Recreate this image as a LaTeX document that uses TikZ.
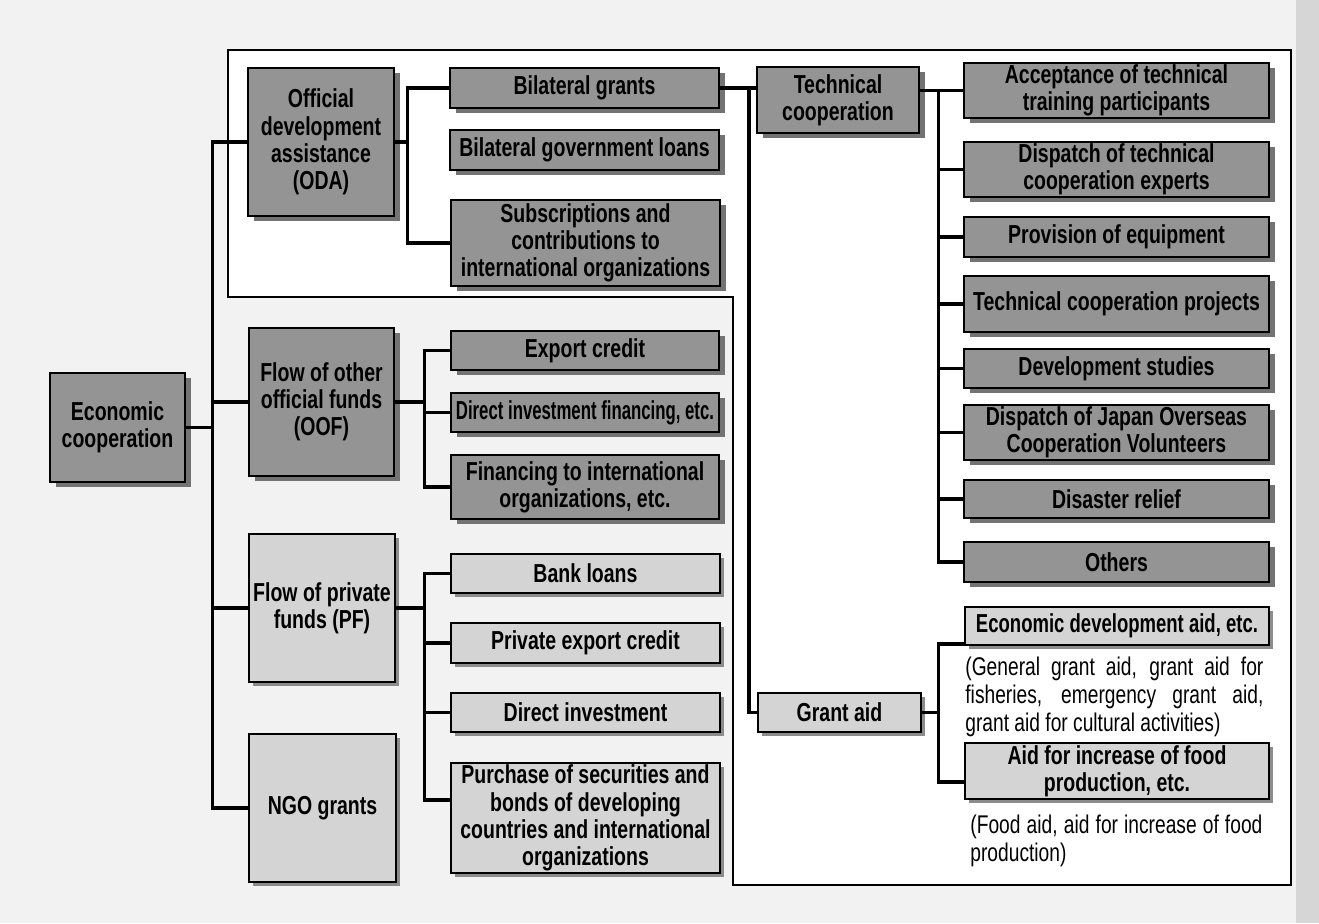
\documentclass[tikz,border=0pt]{standalone}
\usepackage{fontspec}
\setmainfont{Liberation Sans}[FakeStretch=0.75]
\usetikzlibrary{shadows,calc}
\tikzset{
  basebox/.style={draw=black, line width=0.8pt, inner sep=1pt, align=center,
    font=\fontsize{13}{13.6}\selectfont\bfseries},
  dbox/.style={basebox, fill=black!42,
    drop shadow={shadow xshift=3pt, shadow yshift=-2.5pt, fill=black!55, opacity=1}},
  lbox/.style={basebox, fill=black!17,
    drop shadow={shadow xshift=2.2pt, shadow yshift=-2pt, fill=black!45, opacity=1}},
  conn/.style={line width=1.7pt, line join=miter},
  frame/.style={line width=1pt, line join=miter},
  note/.style={inner sep=0pt, align=justify, font=\fontsize{12.8}{14}\selectfont}
}
\newcommand\mkbox[7]{\node[#2, minimum width={(#5-#3)*0.5pt}, minimum height={(#6-#4)*0.5pt}] (#1) at ({(#3+#5)/2},{(#4+#6)/2}) {#7};}
\begin{document}
\begin{tikzpicture}[x=0.5pt,y=-0.5pt]
\useasboundingbox (0,0) rectangle (1319,923);
\fill[black!5] (0,0) rectangle (1319,923);
\fill[black!16] (1296,0) rectangle (1319,923);
\draw[frame, fill=white] (228,50) -- (1291,50) -- (1291,885) -- (733,885) -- (733,297) -- (228,297) -- cycle;

% level 1 and 2
\mkbox{ec}{dbox}{50}{373}{185}{482}{Economic\\cooperation}
\mkbox{oda}{dbox}{248}{68}{394}{216}{Official\\development\\assistance\\(ODA)}
\mkbox{oof}{dbox}{249}{328}{394}{476}{Flow of other\\official funds\\(OOF)}
\mkbox{pf}{lbox}{249}{534}{395}{682}{Flow of private\\funds (PF)}
\mkbox{ngo}{lbox}{249}{734}{396}{882}{NGO grants}

% ODA children
\mkbox{bg}{dbox}{450}{68}{719}{108}{Bilateral grants}
\mkbox{bgl}{dbox}{450}{130}{719}{170}{Bilateral government loans}
\mkbox{sub}{dbox}{451}{200}{720}{286}{Subscriptions and\\contributions to\\international organizations}

% OOF children
\mkbox{exp}{dbox}{451}{331}{719}{370}{Export credit}
\mkbox{dif}{dbox}{451}{393}{719}{432}{\scalebox{0.86}[1]{Direct investment financing, etc.}}
\mkbox{fio}{dbox}{451}{455}{719}{519}{Financing to international\\organizations, etc.}

% PF children
\mkbox{bank}{lbox}{451}{554}{720}{593}{Bank loans}
\mkbox{pec}{lbox}{451}{623}{720}{663}{Private export credit}
\mkbox{di}{lbox}{451}{693}{720}{732}{Direct investment}
\mkbox{pur}{lbox}{451}{763}{720}{873}{Purchase of securities and\\bonds of developing\\countries and international\\organizations}

% bilateral grants children
\mkbox{tc}{dbox}{757}{67}{919}{133}{Technical\\cooperation}
\mkbox{ga}{lbox}{758}{693}{921}{732}{Grant aid}

% technical cooperation children
\mkbox{acc}{dbox}{964}{63}{1269}{118}{Acceptance of technical\\training participants}
\mkbox{dte}{dbox}{964}{142}{1269}{197}{Dispatch of technical\\cooperation experts}
\mkbox{pe}{dbox}{964}{217}{1269}{257}{Provision of equipment}
\mkbox{tcp}{dbox}{964}{276}{1269}{332}{Technical cooperation projects}
\mkbox{ds}{dbox}{964}{349}{1269}{388}{Development studies}
\mkbox{jocv}{dbox}{964}{405}{1269}{460}{Dispatch of Japan Overseas\\Cooperation Volunteers}
\mkbox{dr}{dbox}{964}{480}{1269}{518}{Disaster relief}
\mkbox{oth}{dbox}{964}{542}{1269}{582}{Others}

% grant aid children
\mkbox{eda}{lbox}{965}{607}{1269}{645}{\scalebox{0.95}[1]{Economic development aid, etc.}}
\mkbox{afp}{lbox}{965}{743}{1269}{799}{Aid for increase of food\\production, etc.}

\node[note, anchor=north west, text width=149pt] (n1) at (965,657)
  {(General grant aid, grant aid for\linebreak fisheries, emergency grant aid,\linebreak grant aid for cultural activities)};
\node[note, anchor=north west, text width=146pt] (n2) at (970,815)
  {(Food aid, aid for increase of food\linebreak production)};

% connectors
\draw[conn] (ec.east) -- ++(28,0);
\draw[conn] (oda.west) -- ++(-35,0) |- (ngo.west);
\draw[conn] (oof.west) -- ++(-36,0);
\draw[conn] (pf.west) -- ++(-36,0);

\draw[conn] (oda.east) -- ++(14,0);
\draw[conn] (bg.west) -- ++(-42,0) |- (sub.west);

\draw[conn] (oof.east) -- ++(31,0);
\draw[conn] (exp.west) -- ++(-26,0) |- (fio.west);
\draw[conn] (dif.west) -- ++(-26,0);

\draw[conn] (pf.east) -- ++(30,0);
\draw[conn] (bank.west) -- ++(-26,0) |- ($(pur.west)+(0,-18)$);
\draw[conn] (pec.west) -- ++(-26,0);
\draw[conn] (di.west) -- ++(-26,0);

\draw[conn] (bg.east) -- (tc.west |- bg.east);
\draw[conn] ($(bg.east)+(29,0)$) |- (ga.west);

\draw[conn] (tc.east |- acc.west) -- (acc.west);
\draw[conn] (acc.west) -- ++(-25,0) |- (oth.west);
\foreach \n in {dte,pe,tcp,ds,jocv,dr} \draw[conn] (\n.west) -- ++(-25,0);

\draw[conn] (ga.east) -- ++(18,0);
\draw[conn] ($(eda.south west)+(0,-2)$) -- ++(-26,0) |- ($(afp.west)+(0,11)$);
\end{tikzpicture}
\end{document}
